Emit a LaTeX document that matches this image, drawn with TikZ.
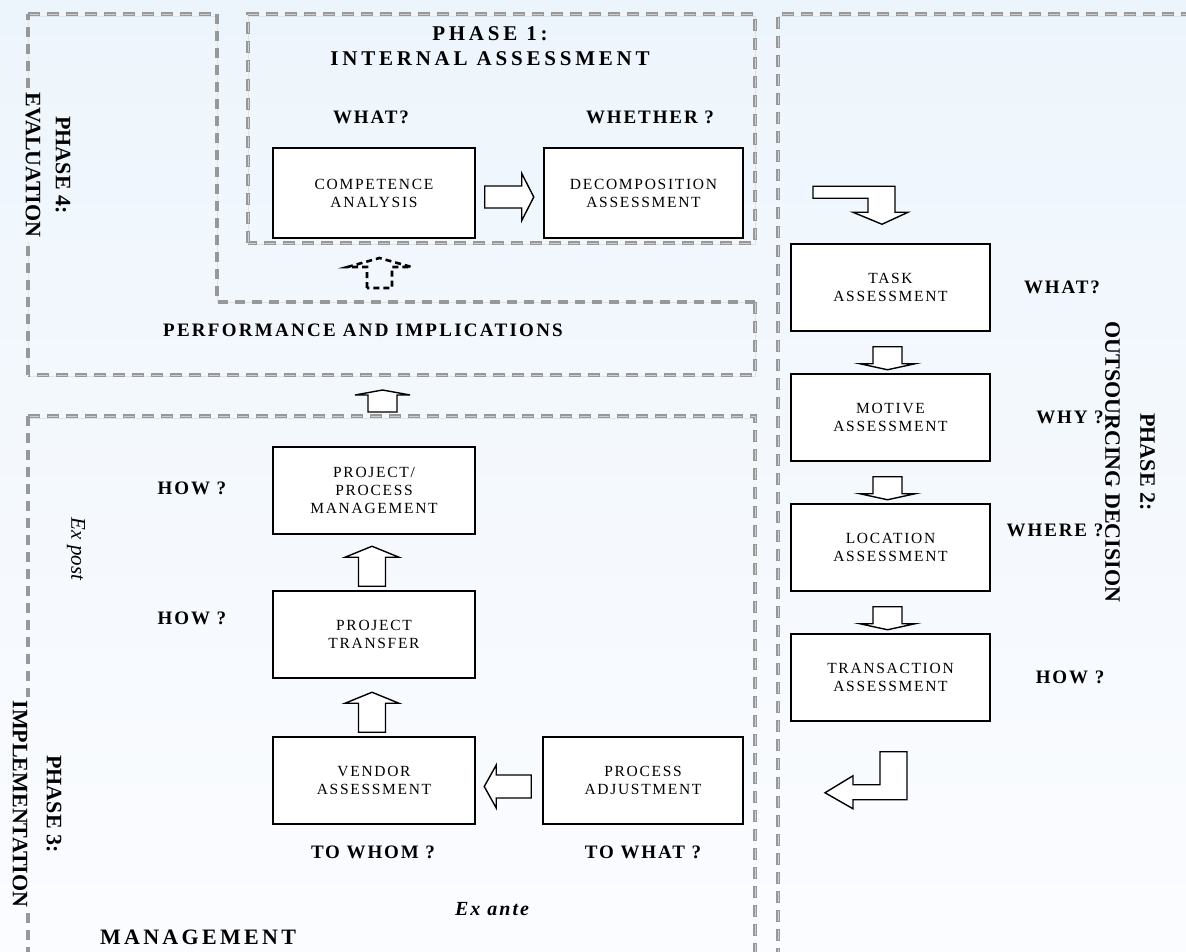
\documentclass[tikz,border=0pt]{standalone}
\usepackage{fontspec}
\setmainfont{Liberation Serif}
\newfontfamily\boxfont[LetterSpace=11]{Liberation Serif}
\newfontfamily\labfont[LetterSpace=10]{Liberation Serif}
\newfontfamily\headfont[LetterSpace=18]{Liberation Serif}
\newfontfamily\perffont[LetterSpace=12]{Liberation Serif}
\newfontfamily\mgmtfont[LetterSpace=15]{Liberation Serif}
\usetikzlibrary{calc}
\definecolor{bgtop}{RGB}{237,245,252}
\definecolor{bgbot}{RGB}{251,252,255}
\definecolor{dashgray}{RGB}{152,152,152}
\definecolor{dashlight}{RGB}{205,207,210}
\definecolor{lightline}{RGB}{222,227,233}
\begin{document}
\begin{tikzpicture}[x=1pt,y=-1pt,
  phaseA/.style={draw=dashgray, line width=4pt, dash pattern=on 12pt off 7pt,
    postaction={draw=dashlight, line width=1pt, dash pattern=on 10pt off 9pt, dash phase=-1pt}},
  phaseB/.style={draw=dashgray, line width=4.5pt, dash pattern=on 10pt off 7pt},
  faint/.style={draw=lightline, line width=0.8pt},
  stepbox/.style={draw=black, line width=1.5pt, fill=white, minimum width=202pt, minimum height=87pt, align=center, inner sep=0pt, font=\boxfont\fontsize{15.5}{18}\selectfont},
  lab/.style={font=\labfont\bfseries\fontsize{19}{22}\selectfont, inner sep=1pt},
  phaselab/.style={font=\bfseries\fontsize{22}{30}\selectfont, align=center, rotate=-90, inner sep=1pt},
  blockarrow/.style={draw=black, line width=1.4pt, fill=white, line join=miter},
  dasharrow/.style={draw=black, line width=2.6pt, dash pattern=on 6pt off 4pt},
]
\shade[top color=bgtop, bottom color=bgbot] (0,0) rectangle (1186,951);
\useasboundingbox (0,0) rectangle (1186,951);

% ---- phase regions ----
% phase 4
\draw[faint] (28,16) -- (217,16) -- (217,302) -- (755,302) -- (755,376) -- (28,376) -- (28,242);
\draw[faint] (28,88) -- (28,16);
\draw[phaseA] (28,14) -- (217,14);
\draw[phaseB] (217,14) -- (217,302) -- (755,302);
\draw[phaseA] (755,302) -- (755,375) -- (28,375);
\draw[phaseB] (28,375) -- (28,242);
\draw[phaseB] (28,88) -- (28,14);
% phase 1
\draw[faint] (248,16) -- (755,16) -- (755,244) -- (248,244) -- cycle;
\draw[phaseA] (248,243) -- (248,14) -- (755,14) -- (755,243) -- cycle;
% phase 2
\draw[faint] (778,16) -- (1190,16);
\draw[phaseA] (778,960) -- (778,14) -- (1190,14);
% phase 3
\draw[faint] (28,418) -- (755,418);
\draw[phaseA] (28,416) -- (755,416) -- (755,960);
\draw[phaseB] (28,416) -- (28,697);
\draw[phaseB] (28,913) -- (28,960);

% ---- boxes ----
\node[stepbox, minimum height=90pt] (comp) at (374,193) {COMPETENCE\\ANALYSIS};
\node[stepbox, minimum height=90pt, minimum width=199pt] (decomp) at (643.5,193) {DECOMPOSITION\\ASSESSMENT};
\node[stepbox, minimum width=199pt] (task) at (890.5,287.5) {TASK\\ASSESSMENT};
\node[stepbox, minimum width=199pt] (motive) at (890.5,417.5) {MOTIVE\\ASSESSMENT};
\node[stepbox, minimum width=199pt] (location) at (890.5,547.5) {LOCATION\\ASSESSMENT};
\node[stepbox, minimum width=199pt] (trans) at (890.5,677.5) {TRANSACTION\\ASSESSMENT};
\node[stepbox] (ppm) at (374,490.5) {PROJECT/\\PROCESS\\MANAGEMENT};
\node[stepbox] (transfer) at (374,634.5) {PROJECT\\TRANSFER};
\node[stepbox] (vendor) at (374,780.5) {VENDOR\\ASSESSMENT};
\node[stepbox, minimum width=200pt] (process) at (643,780.5) {PROCESS\\ADJUSTMENT};

% ---- block arrows ----
% competence -> decomposition
\draw[blockarrow, shift={($(comp.east)+(9,4)$)}] (0,-11) -- (37,-11) -- (37,-23.5) -- (49,0) -- (37,23.5) -- (37,11) -- (0,11) -- cycle;
% decomposition -> task (bent)
\draw[blockarrow, shift={(task.north)}] (-77.5,-57) -- (4.5,-57) -- (4.5,-31) -- (17.5,-31) -- (-8.5,-19) -- (-37.5,-31) -- (-22.5,-31) -- (-22.5,-45) -- (-77.5,-45) -- cycle;
% phase 2 down arrows
\foreach \a in {task,motive,location}{
  \draw[blockarrow, shift={($(\a.south)+(-3,15)$)}] (-14.5,0) -- (-14.5,17) -- (-27.5,17) -- (0,23) -- (27.5,17) -- (14.5,17) -- (14.5,0) -- cycle;
}
% transaction -> (bent, left)
\draw[blockarrow, shift={(trans.south)}] (-10.5,30) -- (16.5,30) -- (16.5,78) -- (-37.5,78) -- (-37.5,87) -- (-65.5,71) -- (-37.5,54) -- (-37.5,63) -- (-10.5,63) -- cycle;
% process -> vendor
\draw[blockarrow, shift={($(process.west)+(-11,6)$)}] (0,-11.5) -- (-35,-11.5) -- (-35,-21.5) -- (-47,0) -- (-35,21.5) -- (-35,11.5) -- (0,11.5) -- cycle;
% vendor -> transfer, transfer -> ppm
\foreach \a in {vendor,transfer}{
  \draw[blockarrow, shift={($(\a.north)+(-2,-4)$)}] (-13.5,0) -- (-13.5,-29) -- (-27,-29) -- (0,-40) -- (27,-29) -- (13.5,-29) -- (13.5,0) -- cycle;
}
% phase 3 -> phase 4
\coordinate (up34) at (382.5,412);
\draw[blockarrow, shift={(up34)}] (-14.5,0) -- (-14.5,-17) -- (-27.5,-17) -- (0,-22) -- (27.5,-17) -- (14.5,-17) -- (14.5,0) -- cycle;
% phase 4 -> phase 1 (dashed)
\coordinate (up41) at (379.5,288);
\draw[dasharrow, shift={(up41)}] (-12.5,0) -- (-12.5,-21) -- (-32,-21) -- (0,-30) -- (32,-21) -- (12.5,-21) -- (12.5,0) -- cycle;

% ---- labels ----
\node[font=\headfont\bfseries\fontsize{21}{25.5}\selectfont, align=center, inner sep=0pt] (ph1) at (490,46) {PHASE 1:\\INTERNAL ASSESSMENT};
\node[lab] (q1) at (371,117) {WHAT?};
\node[lab] (q2) at (650,117) {WHETHER ?};
\node[lab] (q3) at (1062,287) {WHAT?};
\node[lab] (q4) at (1070,417) {WHY ?};
\node[lab] (q5) at (1055,530) {WHERE ?};
\node[lab] (q6) at (1070,677) {HOW ?};
\node[lab] (q7) at (192,488) {HOW ?};
\node[lab] (q8) at (192,618) {HOW ?};
\node[lab] (q9) at (373,852) {TO WHOM ?};
\node[lab] (q10) at (643,852) {TO WHAT ?};
\node[font=\perffont\bfseries\fontsize{19}{22}\selectfont] (perf) at (363,330) {PERFORMANCE AND IMPLICATIONS};
\node[font=\mgmtfont\bfseries\fontsize{22}{26}\selectfont] (mgmt) at (198,937) {MANAGEMENT};
\node[font=\labfont\bfseries\itshape\fontsize{20}{24}\selectfont] (exante) at (492,909) {Ex ante};
\node[font=\itshape\fontsize{21}{24}\selectfont, rotate=-90] (expost) at (76,549) {Ex post};

\node[phaselab] (ph4) at (48,165) {PHASE 4:\\EVALUATION};
\node[phaselab, font=\bfseries\fontsize{22}{34}\selectfont] (ph3) at (37,804) {PHASE 3:\\IMPLEMENTATION};
\node[phaselab, font=\bfseries\fontsize{22}{35}\selectfont] (ph2) at (1130,462) {PHASE 2:\\OUTSOURCING DECISION};
\end{tikzpicture}
\end{document}
